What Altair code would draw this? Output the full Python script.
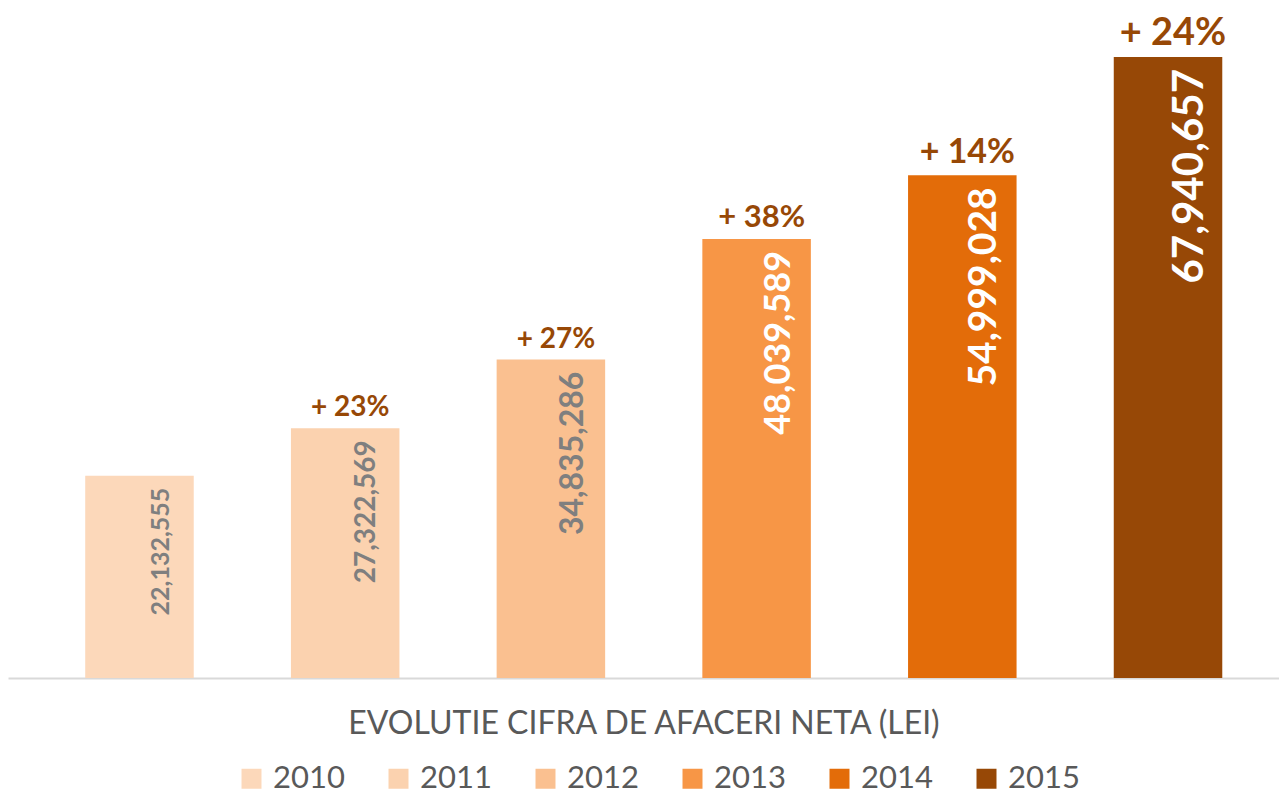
import altair as alt
import pandas as pd

years = ["2010", "2011", "2012", "2013", "2014", "2015"]
values = [22132555, 27322569, 34835286, 48039589, 54999028, 67940657]
growth = ["", "+ 23%", "+ 27%", "+ 38%", "+ 14%", "+ 24%"]

bar_colors = ["#FCD8BA", "#FBD2AF", "#FAC090", "#F79646", "#E36C09", "#974806"]
label_colors = ["#7F7F7F", "#7F7F7F", "#7F7F7F", "#FFFFFF", "#FFFFFF", "#FFFFFF"]
value_font_sizes = [25, 28, 32, 36, 39, 42]
growth_font_sizes = [28, 28, 31, 34, 38]

df = pd.DataFrame({"year": years, "value": values, "growth": growth})

xscale = alt.Scale(domain=years, paddingInner=0.4725, paddingOuter=0.3256, align=0.5765)
yscale = alt.Scale(domain=[0, 73300000], nice=False, zero=True)

base = alt.Chart(df).encode(
    x=alt.X(
        "year:N",
        scale=xscale,
        axis=alt.Axis(
            labels=False,
            ticks=False,
            domainColor="#D9D9D9",
            domainWidth=2,
            title="EVOLUTIE CIFRA DE AFACERI NETA (LEI)",
            titleFont="Lato",
            titleFontSize=32,
            titleFontWeight="normal",
            titleColor="#595959",
            titlePadding=30,
        ),
    ),
    y=alt.Y("value:Q", scale=yscale, axis=None),
)

bars = base.mark_bar().encode(
    color=alt.Color(
        "year:N",
        scale=alt.Scale(domain=years, range=bar_colors),
        legend=alt.Legend(
            orient="none",
            legendX=228,
            legendY=755,
            direction="horizontal",
            title=None,
            symbolType="square",
            symbolSize=400,
            symbolStrokeWidth=0,
            symbolOpacity=1,
            labelFont="Lato",
            labelFontSize=31,
            labelColor="#595959",
            labelOffset=6,
            columnPadding=38,
        ),
    )
)

vals = base.mark_text(
    angle=270, align="right", baseline="middle", dx=-12, dy=22,
    font="Lato", fontWeight="bold",
).encode(
    text=alt.Text("value:Q", format=","),
    size=alt.Size("year:O", scale=alt.Scale(type="ordinal", domain=years, range=value_font_sizes), legend=None),
    fill=alt.Fill("year:N", scale=alt.Scale(domain=years, range=label_colors), legend=None),
)

pct = base.mark_text(
    align="center", baseline="alphabetic", dx=5, dy=-12,
    font="Lato", fontWeight="bold", color="#974806",
).transform_filter("datum.growth != ''").encode(
    text="growth:N",
    size=alt.Size("year:O", scale=alt.Scale(type="ordinal", domain=years[1:], range=growth_font_sizes), legend=None),
)

chart = (
    alt.layer(bars, vals, pct)
    .resolve_scale(size="independent", fill="independent")
    .properties(
        width=1271,
        height=670,
        autosize=alt.AutoSizeParams(type="none"),
        padding={"left": 0, "top": 0, "right": 0, "bottom": 118},
    )
    .configure_view(stroke=None)
)

chart.save("out.html", embed_options={"renderer": "svg", "actions": False})
